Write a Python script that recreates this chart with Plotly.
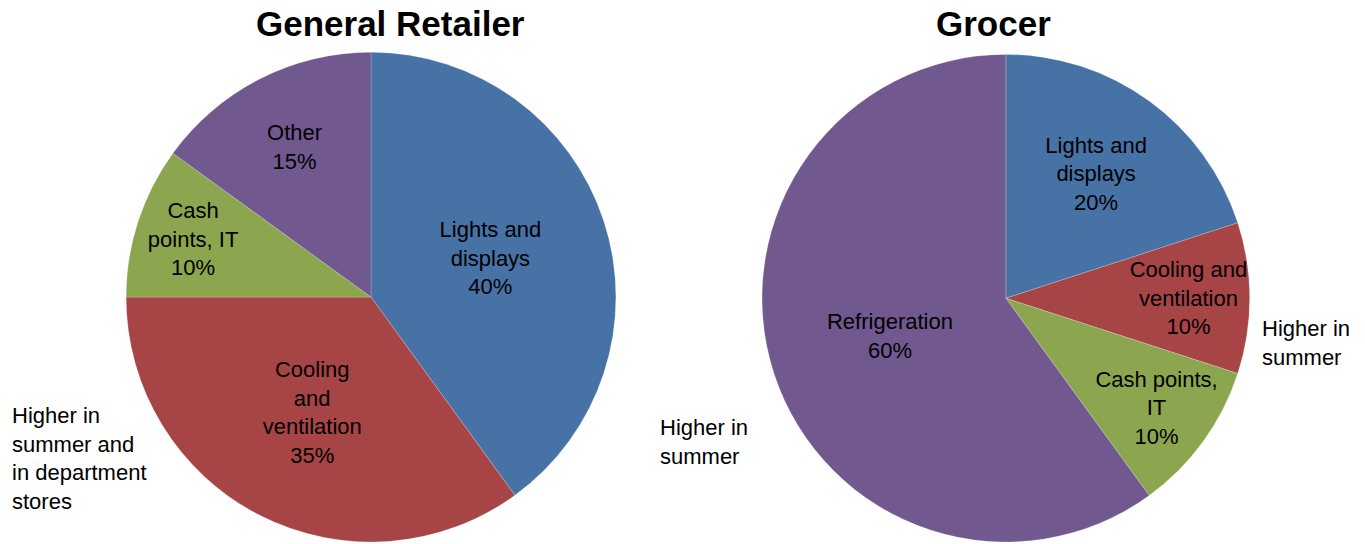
import plotly.graph_objects as go

retail_labels = ["Lights and<br>displays", "Cooling<br>and<br>ventilation", "Cash<br>points, IT", "Other"]
retail_values = [40, 35, 10, 15]
grocer_labels = ["Lights and<br>displays", "Cooling and<br>ventilation", "Cash points,<br>IT", "Refrigeration"]
grocer_values = [20, 10, 10, 60]
colors = ["#4672A6", "#A64446", "#8BA64E", "#71588F"]

FONT = "Liberation Sans, Arial, sans-serif"

fig = go.Figure()
fig.add_trace(go.Pie(
    labels=retail_labels, values=retail_values, sort=False, direction="clockwise", rotation=0,
    marker=dict(colors=colors, line=dict(color="rgba(255,255,255,0.4)", width=0.5)),
    texttemplate="%{label}<br>%{value}%", textposition="inside", insidetextorientation="horizontal",
    textfont=dict(family=FONT, size=22, color="black"),
    domain=dict(x=[0.0923, 0.4513], y=[0.0037, 0.904]), showlegend=False, hoverinfo="skip",
))
fig.add_trace(go.Pie(
    labels=grocer_labels, values=grocer_values, sort=False, direction="clockwise", rotation=0,
    marker=dict(colors=colors, line=dict(color="rgba(255,255,255,0.4)", width=0.5)),
    texttemplate="%{label}<br>%{value}%", textposition="inside", insidetextorientation="horizontal",
    textfont=dict(family=FONT, size=22, color="black"),
    domain=dict(x=[0.558, 0.9158], y=[0.0037, 0.900]), showlegend=False, hoverinfo="skip",
))

ann = [
    dict(text="<b>General Retailer</b>", x=390/1365, y=1-24/544, font=dict(size=35)),
    dict(text="<b>Grocer</b>", x=993/1365, y=1-24/544, font=dict(size=35)),
    dict(text="Higher in<br>summer and<br>in department<br>stores", x=10/1365, y=1-458/544,
         xanchor="left", align="left", font=dict(size=22)),
    dict(text="Higher in<br>summer", x=658/1365, y=1-442/544, xanchor="left", align="left", font=dict(size=22)),
    dict(text="Higher in<br>summer", x=1260/1365, y=1-343/544, xanchor="left", align="left", font=dict(size=22)),
]
for a in ann:
    a.setdefault("xanchor", "center")
    a["yanchor"] = "middle"
    a["xref"] = "paper"; a["yref"] = "paper"; a["showarrow"] = False
    a["font"]["family"] = FONT; a["font"]["color"] = "black"
fig.update_layout(
    width=1365, height=544, margin=dict(l=0, r=0, t=0, b=0),
    paper_bgcolor="white", plot_bgcolor="white", annotations=ann,
    uniformtext=dict(minsize=22, mode="show"),
)
fig.write_html("out.html", config={"displayModeBar": False},
               post_script="document.body.style.margin='0px';")
